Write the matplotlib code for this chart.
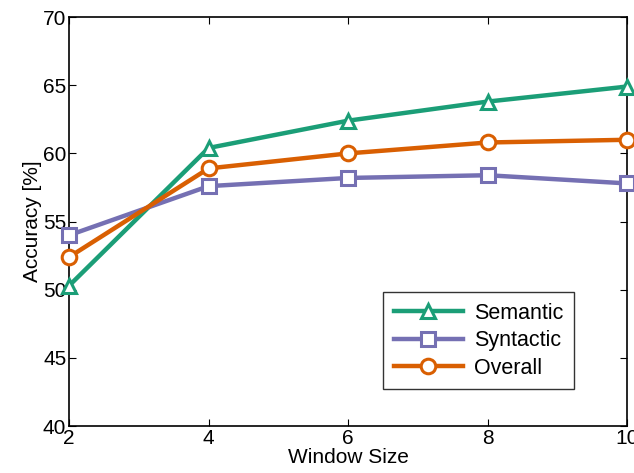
import numpy as np
import matplotlib.pyplot as plt

plt.rcParams['font.family'] = ['Liberation Sans', 'DejaVu Sans']

window_sizes = [2, 4, 6, 8, 10]
semantic = [50.3, 60.4, 62.4, 63.8, 64.9]
syntactic = [54.0, 57.6, 58.2, 58.4, 57.8]
overall = [52.4, 58.9, 60.0, 60.8, 61.0]

series = [
    ('Semantic', semantic, '#1b9e77', '^'),
    ('Syntactic', syntactic, '#7570b3', 's'),
    ('Overall', overall, '#d95f02', 'o'),
]

fig = plt.figure(figsize=(6.34, 4.73), dpi=100)
ax = fig.add_axes([0.109, 0.099, 0.88, 0.865])

for nombre, valores, color, marcador in series:
    ax.plot(window_sizes, valores, color=color, linewidth=3.2, marker=marcador,
            markersize=10.5, markerfacecolor='white', markeredgecolor=color,
            markeredgewidth=2.2, label=nombre, clip_on=False, zorder=3)

ax.set_xlim(2, 10)
ax.set_ylim(40, 70)
ax.set_xticks([2, 4, 6, 8, 10])
ax.set_yticks([40, 45, 50, 55, 60, 65, 70])
ax.tick_params(direction='in', top=True, right=True, labelsize=15, length=5, pad=2)
for s in ax.spines.values():
    s.set_linewidth(1.2)

ax.set_xlabel('Window Size', fontsize=15, labelpad=0)
ax.set_ylabel('Accuracy [%]', fontsize=15, labelpad=1)

leg = ax.legend(loc='lower left', bbox_to_anchor=(0.563, 0.09), fontsize=15.5,
                handlelength=3.2, frameon=True, fancybox=False, borderpad=0.5,
                labelspacing=0.3, handletextpad=0.5, borderaxespad=0)
leg.get_frame().set_edgecolor('black')
leg.get_frame().set_linewidth(1.0)

fig.savefig('out.png', dpi=100)
